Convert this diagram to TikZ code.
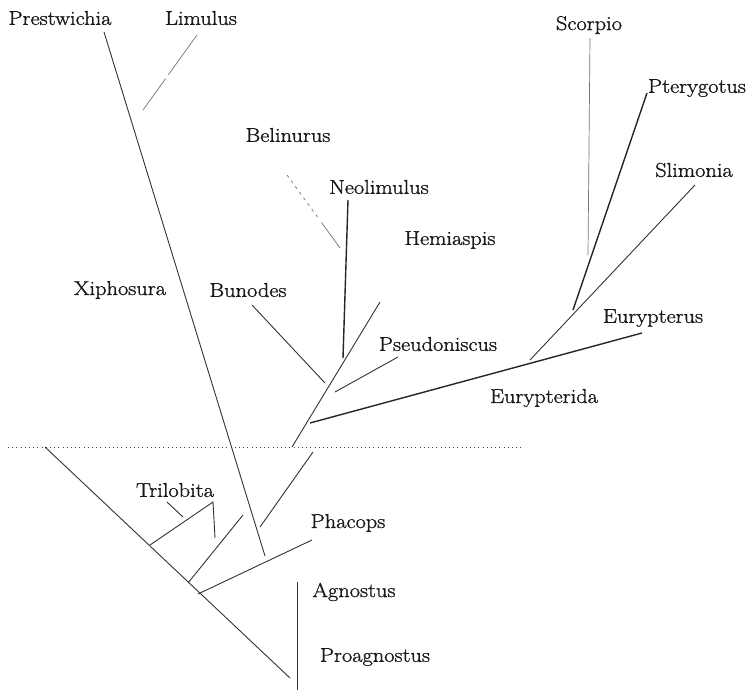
\documentclass[tikz,border=0pt]{standalone}
\usepackage{fontspec}
\newfontfamily\lblfont[FakeBold=1.2,FakeStretch=1.12]{Latin Modern Roman}
\usetikzlibrary{calc}
\begin{document}
\begin{tikzpicture}[x=1pt,y=-1pt,
  lbl/.style={inner sep=0pt,font=\lblfont\fontsize{20}{24}\selectfont,text=black!90},
  br/.style={line width=0.9pt,draw=black!80},
  thick br/.style={line width=1.4pt,draw=black!85},
  faint br/.style={line width=0.7pt,draw=black!55}]
\useasboundingbox[fill=white] (0,0) rectangle (748,691);
% labels
\node[lbl] (prestwichia) at (60,18) {Prestwichia};
\node[lbl] (limulus) at (201,18) {Limulus};
\node[lbl] (scorpio) at (589,25) {Scorpio};
\node[lbl] (pterygotus) at (697,88) {Pterygotus};
\node[lbl] (slimonia) at (694,170) {Slimonia};
\node[lbl] (belinurus) at (288,135) {Belinurus};
\node[lbl] (neolimulus) at (379,187) {Neolimulus};
\node[lbl] (hemiaspis) at (450,240) {Hemiaspis};
\node[lbl] (xiphosura) at (120,290) {Xiphosura};
\node[lbl] (bunodes) at (248,290) {Bunodes};
\node[lbl] (pseudoniscus) at (438,344) {Pseudoniscus};
\node[lbl] (eurypterus) at (653,318) {Eurypterus};
\node[lbl] (eurypterida) at (544,398) {Eurypterida};
\node[lbl] (trilobita) at (175,490) {Trilobita};
\node[lbl] (phacops) at (348,523) {Phacops};
\node[lbl] (agnostus) at (354,592) {Agnostus};
\node[lbl] (proagnostus) at (375,657) {Proagnostus};
% coordinates
\coordinate (dl) at (8,447);
\coordinate (dr) at (524,447);
\coordinate (root) at (45,447);
\coordinate (rootend) at (290,678);
\coordinate (agtop) at (297,582);
\coordinate (agbot) at (297,690);
\coordinate (trA) at (150,545);
\coordinate (trB) at (213,502);
\coordinate (trC) at (215,538);
\coordinate (trT1) at (167,502);
\coordinate (trT2) at (183,517);
\coordinate (b1a) at (188,583);
\coordinate (b1b) at (243,515);
\coordinate (phA) at (198,594);
\coordinate (phB) at (312,540);
\coordinate (xiA) at (265,556);
\coordinate (xiB) at (104,32);
\coordinate (liA) at (143,110);
\coordinate (liB) at (197,35);
\coordinate (liM1) at ($(liA)!0.42!(liB)$);
\coordinate (liM2) at ($(liA)!0.47!(liB)$);
\coordinate (mA) at (260,527);
\coordinate (mB) at (313,452);
\coordinate (nA) at (292,447);
\coordinate (nB) at (380,302);
\coordinate (buA) at (252,305);
\coordinate (buB) at (325,383);
\coordinate (neA) at (348,200);
\coordinate (neB) at (343,358);
\coordinate (beA) at (287,175);
\coordinate (beB) at (340,248);
\coordinate (beM1) at ($(beA)!0.6!(beB)$);
\coordinate (beM2) at ($(beA)!0.65!(beB)$);
\coordinate (psA) at (335,392);
\coordinate (psB) at (398,357);
\coordinate (euA) at (310,423);
\coordinate (euB) at (642,333);
\coordinate (slA) at (530,360);
\coordinate (slB) at (695,185);
\coordinate (ptA) at (573,310);
\coordinate (ptB) at (647,93);
\coordinate (scA) at (590,38);
\coordinate (scB) at (588,255);
% lines
\draw[black!75,line width=0.9pt,dash pattern=on 1pt off 3.2pt] (dl) -- (dr);
\draw[br] (root) -- (rootend);
\draw[br] (agtop) -- (agbot);
\draw[br] (trA) -- (trB) -- (trC);
\draw[br] (trT1) -- (trT2);
\draw[br] (b1a) -- (b1b);
\draw[br] (phA) -- (phB);
\draw[br] (xiA) -- (xiB);
\draw[faint br] (liA) -- (liM1);
\draw[faint br] (liM2) -- (liB);
\draw[br] (mA) -- (mB);
\draw[br] (nA) -- (nB);
\draw[br] (buA) -- (buB);
\draw[thick br] (neA) -- (neB);
\draw[faint br,dash pattern=on 3pt off 4pt] (beA) -- (beM1);
\draw[faint br] (beM2) -- (beB);
\draw[br] (psA) -- (psB);
\draw[thick br] (euA) -- (euB);
\draw[br] (slA) -- (slB);
\draw[thick br] (ptA) -- (ptB);
\draw[faint br] (scA) -- (scB);
\end{tikzpicture}
\end{document}
